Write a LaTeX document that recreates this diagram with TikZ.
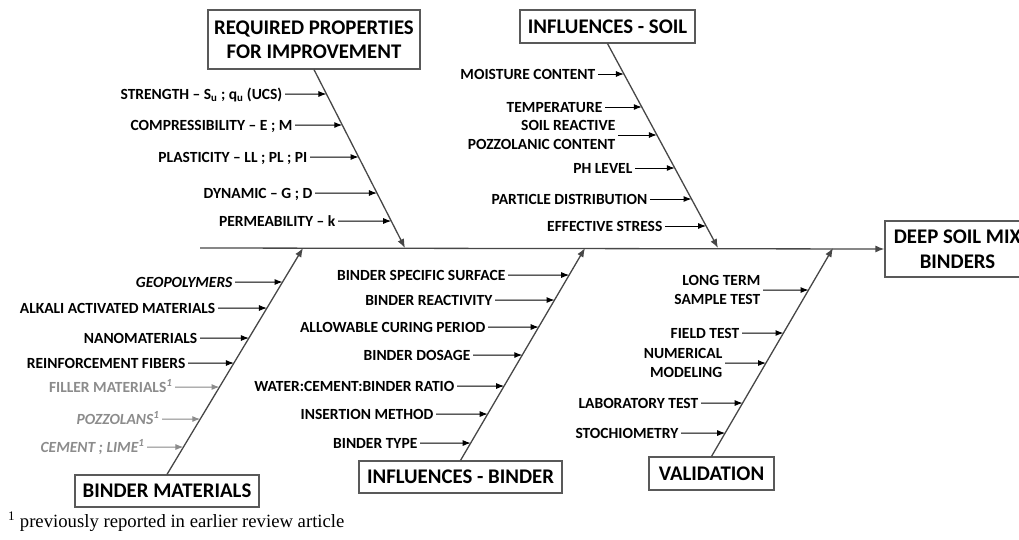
\documentclass[tikz,border=0pt]{standalone}
\usepackage{fontspec}
\setmainfont{Carlito}
\newfontfamily\notefont{Liberation Serif}
\usetikzlibrary{arrows.meta}

\tikzset{
  title/.style={draw=black!65, line width=1.2pt, fill=white, align=center, inner sep=0pt,
    font=\fontsize{20.8}{24.5}\selectfont\bfseries},
  bone/.style={draw=black!72, line width=1.3pt, -{Latex[length=9pt,width=7pt]}},
  cause/.style={anchor=east, inner xsep=2.5pt, inner ysep=0pt, align=right,
    font=\fontsize{15.5}{19}\selectfont\bfseries},
  oneline/.style={text height=10pt, text depth=0pt},
  twoline/.style={},
  oldone/.style={oneline, text=black!45},
  causearrow/.style={draw=black, line width=1pt, -{Latex[length=8pt,width=6pt]}},
  oldarrow/.style={causearrow, draw=black!45, fill=black!45},
}

\begin{document}
\begin{tikzpicture}[x=1pt,y=-1pt]
    \useasboundingbox (0,0) rectangle (1019,539);

    % heads of the bones
    \node[title, minimum width=212pt, minimum height=59pt] (reqbox) at (314,39.5) {REQUIRED PROPERTIES\\FOR IMPROVEMENT};
    \node[title, minimum width=175pt, minimum height=33pt] (soilbox) at (607.5,26.5) {INFLUENCES - SOIL};
    \node[title, minimum width=184pt, minimum height=32pt] (matbox) at (167,491) {BINDER MATERIALS};
    \node[title, minimum width=203pt, minimum height=32pt] (bindbox) at (460.5,477) {INFLUENCES - BINDER};
    \node[title, minimum width=125pt, minimum height=33pt] (valbox) at (711.5,473.5) {VALIDATION};
    \node[title, minimum width=145pt, minimum height=56pt] (dsmbox) at (957.5,249) {DEEP SOIL MIX\\BINDERS};

    % spine and bones
    \coordinate (tail) at (200,248);
    \coordinate (t1) at (405,248);
    \coordinate (t2) at (718,248);
    \coordinate (t3) at (303,248);
    \coordinate (t4) at (585,248);
    \coordinate (t5) at (833,248);
    \draw[bone] (tail) -- (dsmbox.west);
    \draw[bone] (reqbox.south) -- (t1);
    \draw[bone] (soilbox.south) -- (t2);
    \draw[bone] (matbox.north) -- (t3);
    \draw[bone] (bindbox.north) -- (t4);
    \draw[bone] (valbox.north) -- (t5);

    \foreach \y/\x/\s/\txt [count=\i] in {
        94/285/oneline/{STRENGTH \textendash\ S\textsubscript{u} ; q\textsubscript{u} (UCS)},
        125/295/oneline/{COMPRESSIBILITY \textendash\ E ; M},
        157/310/oneline/{PLASTICITY \textendash\ LL ; PL ; PI},
        193/315/oneline/{DYNAMIC \textendash\ G ; D},
        221/338/oneline/{PERMEABILITY \textendash\ k}} {
      \node[cause,\s] (rq\i) at (\x,\y) {\txt};
      \coordinate (rqt\i) at (intersection of reqbox.south--t1 and 0,\y--1000,\y);
      \draw[causearrow] (rq\i.east) -- (rqt\i);
    }

    \foreach \y/\x/\s/\txt [count=\i] in {
        74/598/oneline/{MOISTURE CONTENT},
        107/605/oneline/{TEMPERATURE},
        135/618/twoline/{SOIL REACTIVE\\POZZOLANIC CONTENT},
        168/635/oneline/{PH LEVEL},
        199/650/oneline/{PARTICLE DISTRIBUTION},
        226/665/oneline/{EFFECTIVE STRESS}} {
      \node[cause,\s] (so\i) at (\x,\y) {\txt};
      \coordinate (sot\i) at (intersection of soilbox.south--t2 and 0,\y--1000,\y);
      \draw[causearrow] (so\i.east) -- (sot\i);
    }

    \foreach \y/\x/\s/\a/\txt [count=\i] in {
        282/235/oneline/causearrow/{\itshape GEOPOLYMERS},
        308/218/oneline/causearrow/{ALKALI ACTIVATED MATERIALS},
        338/200/oneline/causearrow/{NANOMATERIALS},
        363/188/oneline/causearrow/{REINFORCEMENT FIBERS},
        387/175/oldone/oldarrow/{FILLER MATERIALS\textsuperscript{\itshape 1}},
        419/162/oldone/oldarrow/{\itshape POZZOLANS\textsuperscript{1}},
        447/147/oldone/oldarrow/{\itshape CEMENT ; LIME\textsuperscript{1}}} {
      \node[cause,\s] (bm\i) at (\x,\y) {\txt};
      \coordinate (bmt\i) at (intersection of matbox.north--t3 and 0,\y--1000,\y);
      \draw[\a] (bm\i.east) -- (bmt\i);
    }

    \foreach \y/\x/\s/\txt [count=\i] in {
        275/508/oneline/{BINDER SPECIFIC SURFACE},
        300/495/oneline/{BINDER REACTIVITY},
        327/488/oneline/{ALLOWABLE CURING PERIOD},
        355/473/oneline/{BINDER DOSAGE},
        386/457/oneline/{WATER:CEMENT:BINDER RATIO},
        414/436/oneline/{INSERTION METHOD},
        443/420/oneline/{BINDER TYPE}} {
      \node[cause,\s] (ib\i) at (\x,\y) {\txt};
      \coordinate (ibt\i) at (intersection of bindbox.north--t4 and 0,\y--1000,\y);
      \draw[causearrow] (ib\i.east) -- (ibt\i);
    }

    \foreach \y/\x/\s/\txt [count=\i] in {
        290/763/twoline/{LONG TERM\\SAMPLE TEST},
        333/742/oneline/{FIELD TEST},
        363/725/twoline/{NUMERICAL\\MODELING},
        403/701/oneline/{LABORATORY TEST},
        433/681/oneline/{STOCHIOMETRY}} {
      \node[cause,\s] (va\i) at (\x,\y) {\txt};
      \coordinate (vat\i) at (intersection of valbox.north--t5 and 0,\y--1000,\y);
      \draw[causearrow] (va\i.east) -- (vat\i);
    }

    \node[anchor=base west, inner sep=0pt, font=\notefont\fontsize{18.7}{21}\selectfont] (note) at (8,527)
      {\textsuperscript{1} previously reported in earlier review article};
  \end{tikzpicture}
\end{document}
